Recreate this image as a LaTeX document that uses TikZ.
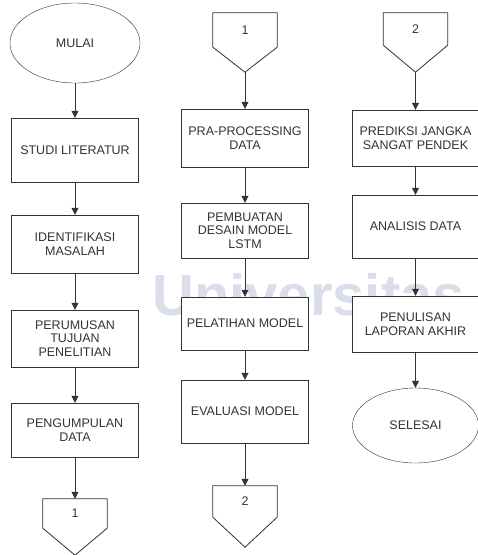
\documentclass[tikz,border=0pt]{standalone}
\usepackage{fontspec}
\setmainfont{Liberation Sans}
\usetikzlibrary{arrows.meta,positioning,shapes.geometric}
\definecolor{ink}{HTML}{333333}
\definecolor{wmark}{HTML}{DADEEA}

\begin{document}
\begin{tikzpicture}[
  x=1pt, y=-1pt,
  font=\fontsize{12.5}{13.5}\selectfont,
  box/.style={draw=ink, fill=white, align=center, text=ink,
              minimum width=127pt, inner sep=1pt},
  term/.style={draw=ink, fill=white, ellipse, text=ink, inner sep=0pt},
  conn/.style={minimum width=64pt, inner sep=0pt, text=ink},
  line/.style={draw=ink, line width=0.8pt},
  arr/.style={-{Triangle[length=7pt,width=7pt]}, line width=0.8pt, draw=ink, fill=ink}
]
\useasboundingbox (0,0) rectangle (478,555);
\fill[white] (0,0) rectangle (478,555);
% watermark
\node[text=wmark, font=\fontsize{58}{58}\bfseries\selectfont, anchor=base west, inner sep=0pt]
  (wm) at (152,315) {Universitas};
% first column
\node[term, minimum width=130pt, minimum height=80pt] (mulai) at (75,43) {MULAI};
\node[box, minimum height=64pt] (studi) at (75,150) {STUDI LITERATUR};
\node[box, minimum height=58pt] (ident) at (75,244) {IDENTIFIKASI\\MASALAH};
\node[box, minimum height=57pt] (rumus) at (75,338.5) {PERUMUSAN\\TUJUAN\\PENELITIAN};
\node[box, minimum height=54pt] (kumpul) at (75,430) {PENGUMPULAN\\DATA};
\node[conn, minimum height=29pt] (c1a) at (75,513.5) {1};
\coordinate[below=27pt of c1a.south] (c1a tip);
\draw[line] (c1a.north west) -- (c1a.north east) -- (c1a.south east)
  -- (c1a tip) -- (c1a.south west) -- cycle;
\draw[arr] (mulai) -- (studi);
\draw[arr] (studi) -- (ident);
\draw[arr] (ident) -- (rumus);
\draw[arr] (rumus) -- (kumpul);
\draw[arr] (kumpul) -- (c1a);
% second column
\node[conn, minimum height=34pt] (c1b) at (245,30) {1};
\coordinate[below=25pt of c1b.south] (c1b tip);
\draw[line] (c1b.north west) -- (c1b.north east) -- (c1b.south east)
  -- (c1b tip) -- (c1b.south west) -- cycle;
\node[box, minimum height=58pt] (pra) at (245,138) {PRA-PROCESSING\\DATA};
\node[box, minimum height=55pt] (desain) at (245,230.5) {PEMBUATAN\\DESAIN MODEL\\LSTM};
\node[box, minimum height=53pt] (latih) at (245,323.5) {PELATIHAN MODEL};
\node[box, minimum height=63pt] (eval) at (245,411.5) {EVALUASI MODEL};
\node[conn, minimum height=31pt] (c2a) at (245,501.5) {2};
\coordinate[below=30pt of c2a.south] (c2a tip);
\draw[line] (c2a.north west) -- (c2a.north east) -- (c2a.south east)
  -- (c2a tip) -- (c2a.south west) -- cycle;
\draw[arr] (c1b tip) -- (pra);
\draw[arr] (pra) -- (desain);
\draw[arr] (desain) -- (latih);
\draw[arr] (latih) -- (eval);
\draw[arr] (eval) -- (c2a);
% third column
\node[conn, minimum height=32pt] (c2b) at (415.5,29) {2};
\coordinate[below=27pt of c2b.south] (c2b tip);
\draw[line] (c2b.north west) -- (c2b.north east) -- (c2b.south east)
  -- (c2b tip) -- (c2b.south west) -- cycle;
\node[box, minimum height=56pt] (prediksi) at (415.5,138) {PREDIKSI JANGKA\\SANGAT PENDEK};
\node[box, minimum height=63pt] (analisis) at (415.5,226.5) {ANALISIS DATA};
\node[box, minimum height=56pt] (tulis) at (415.5,324) {PENULISAN\\LAPORAN AKHIR};
\node[term, minimum width=126pt, minimum height=75pt] (selesai) at (415.5,425.5) {SELESAI};
\draw[arr] (c2b tip) -- (prediksi);
\draw[arr] (prediksi) -- (analisis);
\draw[arr] (analisis) -- (tulis);
\draw[arr] (tulis) -- (selesai);
\end{tikzpicture}
\end{document}
